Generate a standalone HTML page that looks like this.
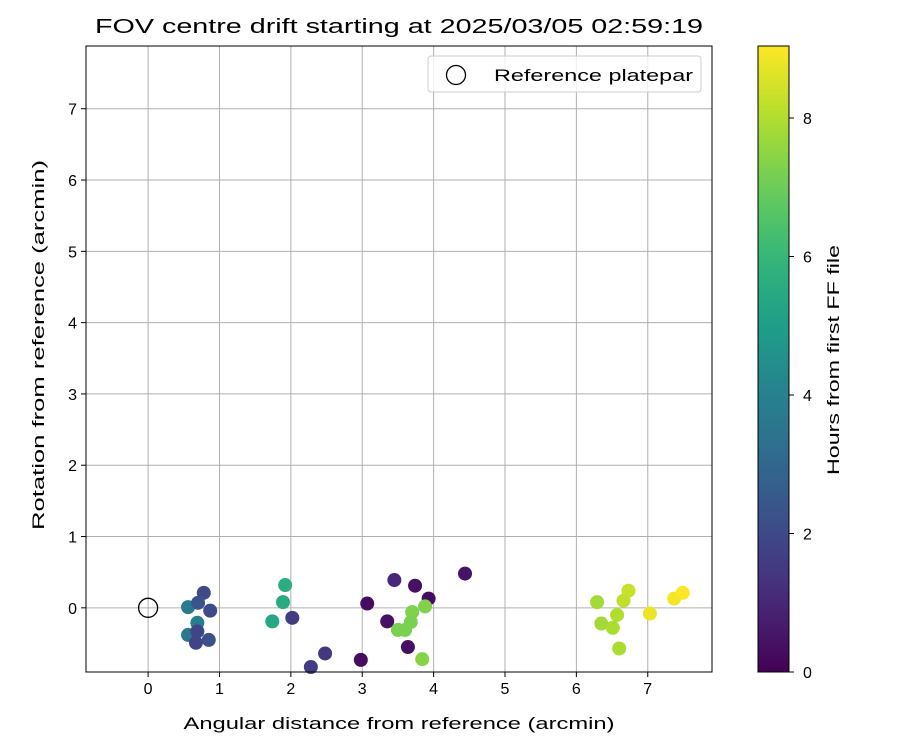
<!DOCTYPE html>
<html><head><meta charset="utf-8"><style>body{margin:0;background:#fff}svg text{font-family:"Liberation Sans","DejaVu Sans",sans-serif;fill:#000}</style></head>
<body>
<svg id="c" width="900" height="750" xmlns="http://www.w3.org/2000/svg"></svg>
<script>
const xs=[0.56,0.56,0.69,0.78,0.70,0.87,0.85,0.67,0.69,1.92,1.89,1.74,2.02,2.48,2.28,2.98,3.07,3.45,3.74,3.35,3.93,3.64,4.44,3.70,3.88,3.68,3.60,3.50,3.84,6.29,6.35,6.51,6.57,6.60,6.66,6.73,7.03,7.37,7.49];
const ys=[0.01,-0.38,-0.21,0.21,0.07,-0.04,-0.45,-0.49,-0.33,0.32,0.08,-0.19,-0.14,-0.64,-0.83,-0.73,0.06,0.39,0.31,-0.19,0.13,-0.55,0.48,-0.06,0.02,-0.2,-0.31,-0.31,-0.72,0.08,-0.22,-0.28,-0.10,-0.57,0.10,0.24,-0.08,0.13,0.21];
const hrs=[3.7,3.6,3.9,2.0,2.3,2.0,2.2,1.8,1.9,5.6,5.5,5.4,1.6,1.5,1.6,0.3,0.3,1.0,0.4,0.4,0.3,0.4,0.5,7.3,7.3,7.2,7.2,7.2,7.4,7.8,7.8,7.9,8.0,7.9,8.2,8.3,8.8,8.9,9.0];
const xTicks=[0,1,2,3,4,5,6,7], yTicks=[0,1,2,3,4,5,6,7], cTicks=[0,2,4,6,8];
const L=86,R=712,T=46,B=672, xmin=-0.87,xmax=7.9,ymin=-0.9,ymax=7.88, cmax=9.04;
const X=d=>L+(d-xmin)/(xmax-xmin)*(R-L), Y=d=>B-(d-ymin)/(ymax-ymin)*(B-T);
const V=[[68,1,84],[72,40,120],[62,74,137],[49,104,142],[38,130,142],[31,158,137],[53,183,121],[109,205,89],[180,222,44],[253,231,37]];
function vir(f){f=Math.max(0,Math.min(1,f))*9;const i=Math.min(8,Math.floor(f)),r=f-i;const c=V[i].map((v,k)=>Math.round(v+(V[i+1][k]-v)*r));return`rgb(${c})`;}
const s=document.getElementById('c');let h='';
const LA='lengthAdjust="spacingAndGlyphs"';
h+=`<text x="399" y="33" font-size="20" text-anchor="middle" textLength="608" ${LA}>FOV centre drift starting at 2025/03/05 02:59:19</text>`;
xTicks.forEach(t=>{h+=`<line x1="${X(t)}" x2="${X(t)}" y1="${T}" y2="${B}" stroke="#b0b0b0" stroke-width="1"/><line x1="${X(t)}" x2="${X(t)}" y1="${B}" y2="${B+5}" stroke="#000"/><text x="${X(t)}" y="${B+22}" font-size="16" text-anchor="middle">${t}</text>`;});
yTicks.forEach(t=>{h+=`<line y1="${Y(t)}" y2="${Y(t)}" x1="${L}" x2="${R}" stroke="#b0b0b0" stroke-width="1"/><line y1="${Y(t)}" y2="${Y(t)}" x1="${L-5}" x2="${L}" stroke="#000"/><text x="${L-9}" y="${Y(t)+6}" font-size="16" text-anchor="end">${t}</text>`;});
xs.forEach((x,i)=>{h+=`<circle cx="${X(x)}" cy="${Y(ys[i])}" r="7" fill="${vir(hrs[i]/cmax)}"/>`;});
h+=`<circle cx="${X(0)}" cy="${Y(0)}" r="9.5" fill="none" stroke="#000" stroke-width="1.3"/>`;
h+=`<rect x="${L}" y="${T}" width="${R-L}" height="${B-T}" fill="none" stroke="#000" stroke-width="1"/>`;
h+=`<g><rect x="428" y="56" width="273" height="36" rx="3" fill="#fff" fill-opacity="0.8" stroke="#ccc"/><circle cx="456" cy="75" r="9.5" fill="none" stroke="#000" stroke-width="1.3"/><text x="494" y="81" font-size="17" textLength="199" ${LA}>Reference platepar</text></g>`;
h+=`<text x="399" y="729" font-size="17" text-anchor="middle" textLength="431" ${LA}>Angular distance from reference (arcmin)</text>`;
h+=`<text transform="translate(44,345) rotate(-90)" font-size="17" text-anchor="middle" textLength="370" ${LA}>Rotation from reference (arcmin)</text>`;
let st='';for(let i=0;i<=20;i++)st+=`<stop offset="${i/20}" stop-color="${vir(i/20)}"/>`;
h+=`<defs><linearGradient id="g" x1="0" y1="1" x2="0" y2="0">${st}</linearGradient></defs><rect x="758" y="${T}" width="31" height="${B-T}" fill="url(#g)" stroke="#000"/>`;
cTicks.forEach(t=>{const y=B-t/cmax*(B-T);h+=`<line x1="789" x2="794" y1="${y}" y2="${y}" stroke="#000"/><text x="803" y="${y+6}" font-size="16">${t}</text>`;});
h+=`<text transform="translate(839,360) rotate(-90)" font-size="17" text-anchor="middle" textLength="230" ${LA}>Hours from first FF file</text>`;
s.innerHTML=h;
</script>
</body></html>
